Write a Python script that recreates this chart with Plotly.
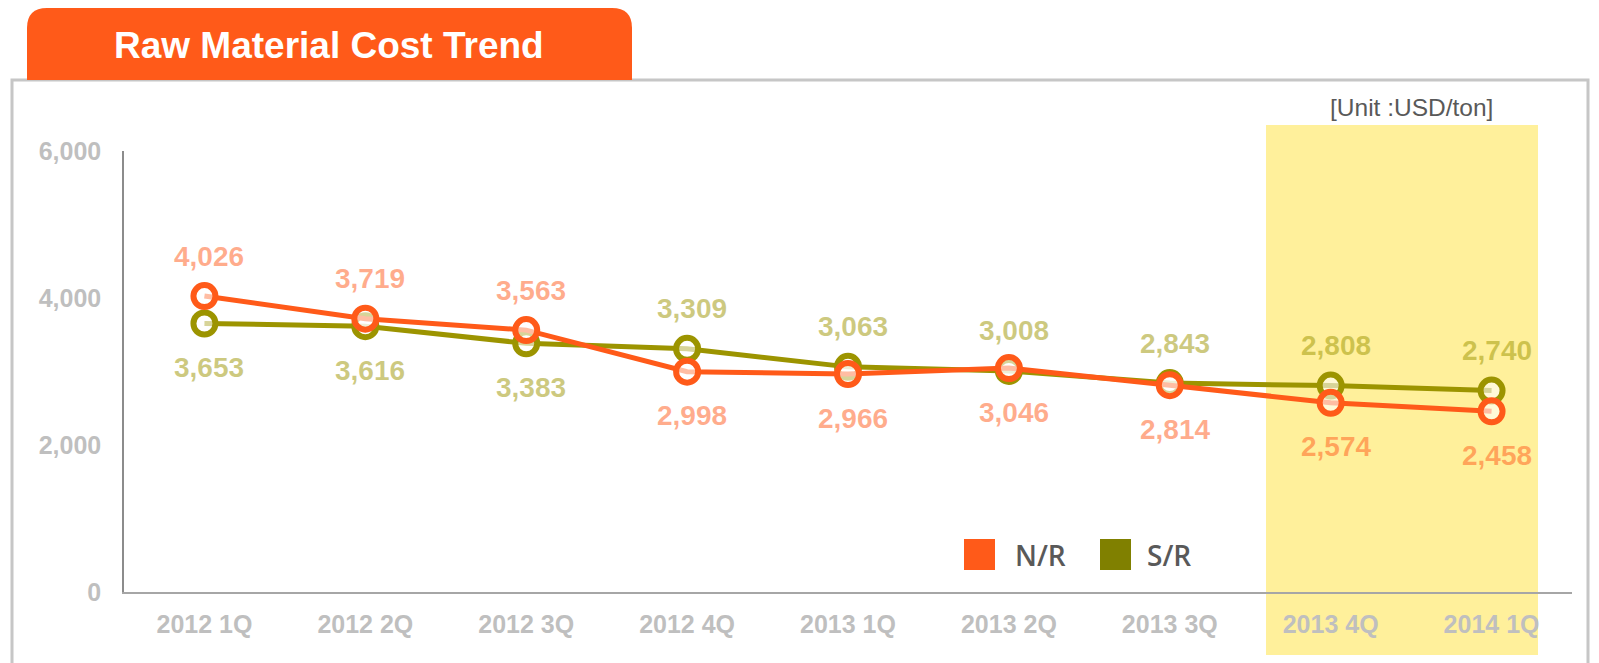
import plotly.graph_objects as go

# ---- data ----
quarters = ["2012 1Q", "2012 2Q", "2012 3Q", "2012 4Q", "2013 1Q",
            "2013 2Q", "2013 3Q", "2013 4Q", "2014 1Q"]
nr_values = [4026, 3719, 3563, 2998, 2966, 3046, 2814, 2574, 2458]
sr_values = [3653, 3616, 3383, 3309, 3063, 3008, 2843, 2808, 2740]
y_ticks = [0, 2000, 4000, 6000]
series_names = ["N/R", "S/R"]
title_text = "Raw Material Cost Trend"
unit_text = "[Unit :USD/ton]"

# label placement: True = above the point
nr_label_above = [True, True, True, False, False, False, False, False, False]
sr_label_above = [False, False, False, True, True, True, True, True, True]

# ---- style ----
OFF = 8  # page body margin
W, H = 1599 - OFF, 663 - OFF
PL, PR, PT, PB = 124, 1572, 151, 592  # in window pixels
NR_COLOR = "#FF5A19"
SR_COLOR = "#9C9400"
SR_LEGEND = "#808000"
NR_LABEL = "rgba(255,90,25,0.5)"
SR_LABEL = "rgba(155,148,0,0.5)"
TICK_COLOR = "#bfbfbf"
FONT = "Liberation Sans, Arial, sans-serif"


def X(px):
    return (px - PL) / (PR - PL)


def Y(py):
    return (PB - py) / (PB - PT)


fig = go.Figure()

for name, vals, color in [(series_names[1], sr_values, SR_COLOR),
                          (series_names[0], nr_values, NR_COLOR)]:
    fig.add_trace(go.Scatter(
        x=quarters, y=vals, name=name, mode="lines+markers",
        line=dict(color=color, width=5),
        marker=dict(symbol="circle", size=22, color="rgba(255,255,255,0.6)",
                    line=dict(color=color, width=6)),
        showlegend=False, hoverinfo="x+y+name",
    ))

annotations = []
for vals, above, col in [(nr_values, nr_label_above, NR_LABEL),
                         (sr_values, sr_label_above, SR_LABEL)]:
    for q, v, a in zip(quarters, vals, above):
        annotations.append(dict(
            x=q, y=v, xref="x", yref="y", text=f"{v:,}", showarrow=False,
            xanchor="center", yanchor="middle", xshift=5,
            yshift=40 if a else -44,
            font=dict(family=FONT, size=28, color=col, weight="bold"),
        ))

# title
annotations.append(dict(
    x=X(329), y=Y(45), xref="paper", yref="paper", text=title_text,
    showarrow=False, xanchor="center", yanchor="middle",
    font=dict(family=FONT, size=37, color="white", weight="bold"),
))
# unit
annotations.append(dict(
    x=X(1411), y=Y(107), xref="paper", yref="paper", text=unit_text,
    showarrow=False, xanchor="center", yanchor="middle",
    font=dict(family=FONT, size=24.5, color="#595959"),
))
# legend texts
for name, left in [(series_names[0], 1013), (series_names[1], 1145)]:
    annotations.append(dict(
        x=X(left), y=Y(555), xref="paper", yref="paper", text=name,
        showarrow=False, xanchor="left", yanchor="middle",
        font=dict(family="Open Sans, sans-serif", size=28, color="#595959",
                  weight=600),
    ))

shapes = []
# outer frame
shapes.append(dict(type="rect", xref="paper", yref="paper",
                   x0=X(12), x1=X(1588), y0=Y(700), y1=Y(80),
                   line=dict(color="#c6c6c6", width=3), fillcolor="rgba(0,0,0,0)",
                   layer="below"))
# highlight band
shapes.append(dict(type="rect", xref="paper", yref="paper",
                   x0=X(1266), x1=X(1538), y0=Y(655), y1=Y(125),
                   line=dict(width=0), fillcolor="#FFF09B", layer="below"))
# title tab with rounded top corners
r = 20
tx0, tx1, ty0, ty1 = 27, 632, 8, 80
path = (f"M {X(tx0)},{Y(ty1)} L {X(tx0)},{Y(ty0 + r)} "
        f"Q {X(tx0)},{Y(ty0)} {X(tx0 + r)},{Y(ty0)} "
        f"L {X(tx1 - r)},{Y(ty0)} Q {X(tx1)},{Y(ty0)} {X(tx1)},{Y(ty0 + r)} "
        f"L {X(tx1)},{Y(ty1)} Z")
shapes.append(dict(type="path", xref="paper", yref="paper", path=path,
                   fillcolor=NR_COLOR, line=dict(width=0), layer="above"))
# legend squares
for color, left in [(NR_COLOR, 964), (SR_LEGEND, 1100)]:
    shapes.append(dict(type="rect", xref="paper", yref="paper",
                       x0=X(left), x1=X(left + 31), y0=Y(570), y1=Y(539),
                       fillcolor=color, line=dict(width=0), layer="above"))

fig.update_layout(
    width=W, height=H,
    margin=dict(l=PL - OFF, r=1599 - PR, t=PT - OFF, b=663 - PB),
    paper_bgcolor="white", plot_bgcolor="rgba(0,0,0,0)",
    showlegend=False,
    annotations=annotations, shapes=shapes,
    xaxis=dict(type="category", range=[-0.5, len(quarters) - 0.5],
               showline=True, linecolor="#a6a6a6", linewidth=2,
               showgrid=False, zeroline=False,
               ticks="outside", ticklen=9, tickcolor="rgba(0,0,0,0)",
               tickfont=dict(family=FONT, size=25, color=TICK_COLOR, weight="bold")),
    yaxis=dict(range=[0, 6000], tickvals=y_ticks, tickformat=",",
               showline=True, linecolor="#8c8c8c", linewidth=1.5,
               showgrid=False, zeroline=False,
               ticks="outside", ticklen=16, tickcolor="rgba(0,0,0,0)",
               tickfont=dict(family=FONT, size=25, color=TICK_COLOR, weight="bold")),
)

fig.write_html("out.html")
